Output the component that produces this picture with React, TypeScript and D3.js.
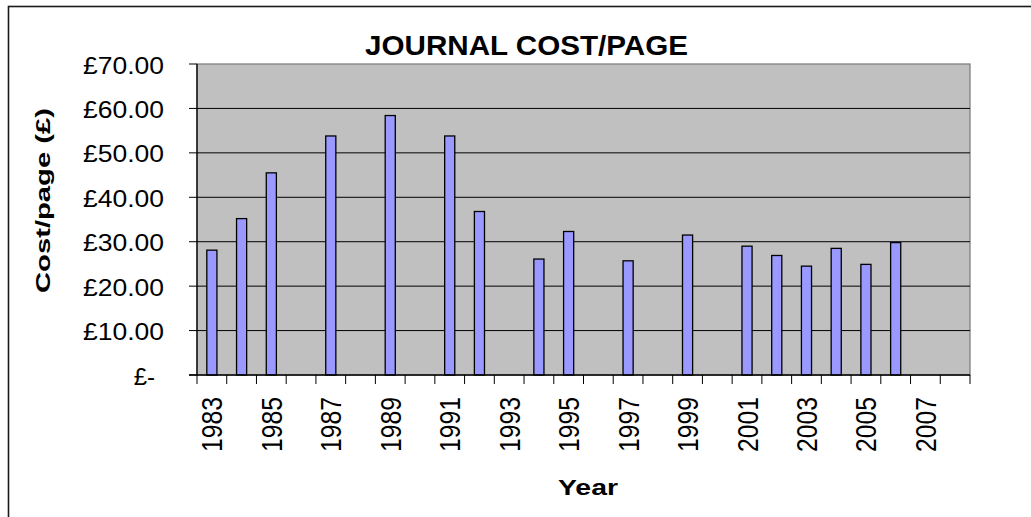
import React from "react";
import * as d3 from "d3";

const years: string[] = [
  "1983","1984","1985","1986","1987","1988","1989","1990","1991","1992","1993","1994","1995",
  "1996","1997","1998","1999","2000","2001","2002","2003","2004","2005","2006","2007","2008",
];
const costPerPage: (number | null)[] = [
  28.1, 35.2, 45.5, null, 53.8, null, 58.4, null, 53.8, 36.8, null, 26.1, 32.3,
  null, 25.7, null, 31.5, null, 29.0, 26.9, 24.5, 28.5, 24.9, 29.8, null, null,
];
const yTicks: number[] = [0, 10, 20, 30, 40, 50, 60, 70];
const yTickLabels: string[] = ["£-", "£10.00", "£20.00", "£30.00", "£40.00", "£50.00", "£60.00", "£70.00"];
const labeledYears: string[] = ["1983","1985","1987","1989","1991","1993","1995","1997","1999","2001","2003","2005","2007"];

const W = 1031, H = 517;
const L = 197, R = 970, T = 64, B = 375;
const FONT = "'Liberation Sans', Arial, sans-serif";

export default function App() {
  const x = d3.scaleBand<string>().domain(years).range([L, R]).paddingInner(0).paddingOuter(0);
  const y = d3.scaleLinear().domain([0, 70]).range([B, T]);
  const bw = x.bandwidth();
  const barW = bw * 0.34;

  return (
    <svg width={W} height={H} style={{ position: "absolute", left: 0, top: 0, background: "#fff" }}>
      <rect x={8.5} y={6.5} width={1100} height={600} fill="#fff" stroke="#1a1a1a" strokeWidth={1.6} />
      <rect x={L} y={T} width={R - L} height={B - T} fill="#C0C0C0" stroke="#808080" strokeWidth={1.3} />
      {yTicks.filter(t => t > 0 && t < 70).map(t => (
        <line key={"g" + t} x1={L} x2={R} y1={y(t)} y2={y(t)} stroke="#000" strokeWidth={1} />
      ))}
      {years.map((yr, i) => {
        const v = costPerPage[i];
        if (v == null) return null;
        const cx = (x(yr) as number) + bw / 2;
        return (
          <rect key={"b" + yr} x={cx - barW / 2} y={y(v)} width={barW} height={B - y(v)}
            fill="#9999FF" stroke="#000" strokeWidth={1.3} />
        );
      })}
      {/* axes */}
      <line x1={L} x2={L} y1={T} y2={B} stroke="#000" strokeWidth={1.3} />
      <line x1={L - 8} x2={R} y1={B} y2={B} stroke="#000" strokeWidth={1.3} />
      {yTicks.map(t => (
        <line key={"yt" + t} x1={L - 8} x2={L} y1={y(t)} y2={y(t)} stroke="#000" strokeWidth={1} />
      ))}
      {d3.range(years.length + 1).map(i => {
        const xx = L + i * bw;
        return <line key={"xt" + i} x1={xx} x2={xx} y1={B} y2={B + 9} stroke="#000" strokeWidth={1} />;
      })}
      {yTicks.map((t, i) => (
        yTickLabels[i] === "£-" ? (
          <text key={"yl" + t} x={155} y={y(t) + 9.5} textAnchor="end" fontFamily={FONT} fontSize={24}>£-</text>
        ) : (
          <text key={"yl" + t} x={164} y={y(t) + 9.5} textAnchor="end" fontFamily={FONT} fontSize={24}
            textLength={81} lengthAdjust="spacingAndGlyphs">{yTickLabels[i]}</text>
        )
      ))}
      {labeledYears.map(yr => {
        const cx = (x(yr) as number) + bw / 2;
        return (
          <text key={"xl" + yr} transform={`translate(${cx + 10.5},397) rotate(-90)`} textAnchor="end"
            fontFamily={FONT} fontSize={29} textLength={55} lengthAdjust="spacingAndGlyphs">{yr}</text>
        );
      })}
      <text x={526.5} y={55} textAnchor="middle" fontFamily={FONT} fontSize={28} fontWeight="bold"
        textLength={323} lengthAdjust="spacingAndGlyphs">JOURNAL COST/PAGE</text>
      <text transform={`translate(50,200.5) rotate(-90)`} textAnchor="middle" fontFamily={FONT} fontSize={21}
        fontWeight="bold" textLength={185} lengthAdjust="spacingAndGlyphs">Cost/page (£)</text>
      <text x={588} y={495} textAnchor="middle" fontFamily={FONT} fontSize={22} fontWeight="bold"
        textLength={60} lengthAdjust="spacingAndGlyphs">Year</text>
    </svg>
  );
}
